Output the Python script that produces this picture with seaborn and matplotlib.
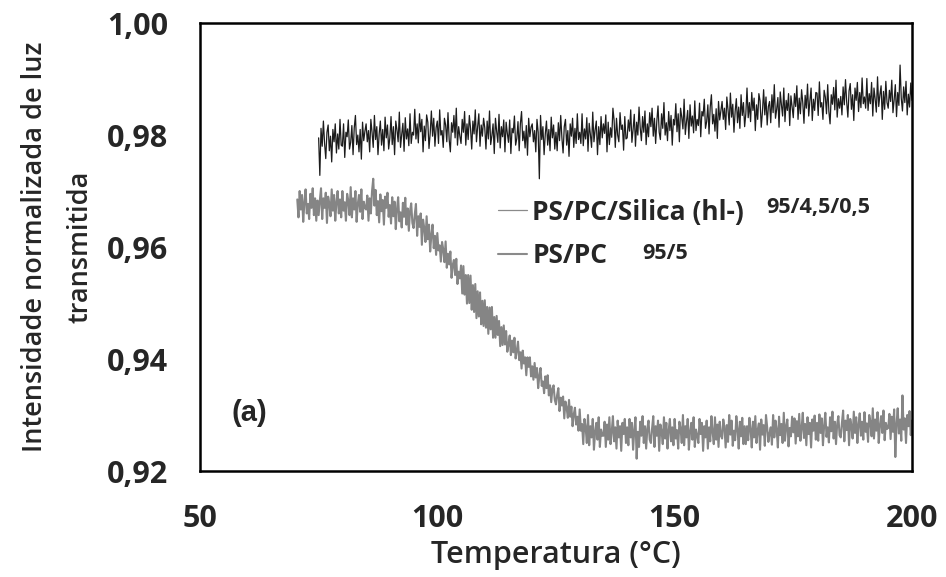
import numpy as np
import pandas as pd
import matplotlib
matplotlib.use('Agg')
import matplotlib.pyplot as plt
import seaborn as sns
from matplotlib.ticker import MultipleLocator, FuncFormatter

# leituras do gráfico, intensidade x 10^4, uma leitura a cada 0,25 °C
silica_t = (75.0, 200.0)
pspc_t = (70.5, 200.0)

silica_e4 = [
    9795, 9728, 9812, 9780, 9825, 9785, 9758, 9805, 9818, 9772, 9798, 9752, 9810, 9788, 9820, 9768, 9802, 9775, 9828, 9782,
    9780, 9820, 9760, 9805, 9797, 9827, 9775, 9787, 9817, 9765, 9813, 9835, 9783, 9800, 9770, 9810, 9757, 9823, 9790, 9807,
    9820, 9788, 9808, 9770, 9828, 9805, 9778, 9835, 9792, 9815, 9765, 9802, 9825, 9782, 9810, 9772, 9832, 9795, 9818, 9775,
    9795, 9833, 9783, 9815, 9765, 9825, 9809, 9788, 9841, 9778, 9801, 9821, 9771, 9831, 9793, 9811, 9781, 9838, 9785, 9805,
    9800, 9846, 9793, 9820, 9786, 9838, 9806, 9828, 9770, 9816, 9790, 9836, 9823, 9776, 9803, 9843, 9798, 9830, 9780, 9813,
    9825, 9785, 9845, 9800, 9808, 9778, 9830, 9818, 9788, 9840, 9792, 9770, 9822, 9805, 9835, 9795, 9848, 9782, 9815, 9798,
    9785, 9828, 9805, 9842, 9782, 9820, 9792, 9835, 9812, 9775, 9825, 9802, 9845, 9788, 9815, 9838, 9780, 9818, 9798, 9830,
    9813, 9775, 9825, 9793, 9843, 9783, 9799, 9820, 9767, 9830, 9807, 9787, 9837, 9777, 9815, 9797, 9827, 9770, 9823, 9803,
    9787, 9827, 9767, 9812, 9804, 9834, 9782, 9794, 9824, 9772, 9820, 9842, 9790, 9807, 9777, 9817, 9764, 9830, 9797, 9814,
    9820, 9788, 9808, 9770, 9828, 9805, 9722, 9835, 9792, 9815, 9765, 9802, 9825, 9782, 9810, 9772, 9832, 9795, 9818, 9775,
    9805, 9772, 9822, 9790, 9835, 9795, 9768, 9815, 9828, 9782, 9808, 9762, 9820, 9798, 9830, 9778, 9812, 9785, 9838, 9792,
    9805, 9785, 9838, 9781, 9811, 9793, 9831, 9771, 9821, 9801, 9778, 9841, 9788, 9809, 9825, 9765, 9815, 9783, 9833, 9795,
    9820, 9803, 9836, 9770, 9823, 9783, 9813, 9796, 9848, 9826, 9778, 9830, 9800, 9788, 9840, 9810, 9818, 9773, 9833, 9793,
    9795, 9827, 9807, 9845, 9787, 9810, 9837, 9780, 9823, 9800, 9850, 9813, 9790, 9833, 9805, 9843, 9783, 9820, 9797, 9840,
    9815, 9848, 9798, 9830, 9785, 9825, 9852, 9805, 9792, 9838, 9812, 9858, 9800, 9822, 9790, 9842, 9808, 9835, 9782, 9828,
    9818, 9856, 9806, 9838, 9788, 9848, 9832, 9811, 9864, 9801, 9824, 9844, 9794, 9854, 9816, 9834, 9804, 9861, 9808, 9828,
    9817, 9857, 9797, 9842, 9834, 9864, 9812, 9824, 9854, 9802, 9850, 9872, 9820, 9837, 9807, 9847, 9794, 9860, 9827, 9844,
    9860, 9828, 9848, 9810, 9868, 9845, 9818, 9875, 9832, 9855, 9805, 9842, 9865, 9822, 9850, 9812, 9872, 9835, 9858, 9815,
    9838, 9884, 9831, 9858, 9824, 9876, 9844, 9866, 9808, 9854, 9828, 9874, 9861, 9814, 9841, 9881, 9836, 9868, 9818, 9851,
    9860, 9822, 9872, 9840, 9890, 9830, 9846, 9867, 9814, 9877, 9854, 9834, 9884, 9824, 9862, 9844, 9874, 9817, 9870, 9850,
    9831, 9874, 9851, 9888, 9828, 9866, 9838, 9881, 9858, 9821, 9871, 9848, 9891, 9834, 9861, 9884, 9826, 9864, 9844, 9876,
    9875, 9835, 9895, 9850, 9858, 9828, 9880, 9868, 9838, 9890, 9842, 9820, 9872, 9855, 9885, 9845, 9898, 9832, 9865, 9848,
    9869, 9836, 9886, 9854, 9899, 9859, 9832, 9879, 9892, 9846, 9872, 9826, 9884, 9862, 9894, 9842, 9876, 9849, 9902, 9856,
    9868, 9848, 9901, 9844, 9874, 9856, 9894, 9834, 9884, 9864, 9841, 9904, 9851, 9872, 9888, 9828, 9878, 9846, 9896, 9858,
    9848, 9880, 9860, 9898, 9840, 9863, 9890, 9833, 9876, 9853, 9925, 9866, 9843, 9886, 9858, 9896, 9836, 9873, 9850, 9893,
    9862,
]

pspc_e4 = [
    9685, 9653, 9700, 9667, 9693, 9645, 9680, 9703, 9660, 9677, 9650, 9695, 9670, 9705, 9657, 9687, 9647, 9683,
    9657, 9683, 9705, 9650, 9687, 9670, 9697, 9643, 9690, 9678, 9655, 9703, 9665, 9693, 9647, 9680, 9700, 9660, 9685, 9653,
    9700, 9665, 9680, 9647, 9695, 9683, 9657, 9707, 9653, 9687, 9667, 9700, 9645, 9677, 9693, 9663, 9703, 9650, 9681, 9670,
    9667, 9692, 9647, 9687, 9660, 9700, 9722, 9674, 9702, 9657, 9682, 9644, 9694, 9664, 9684, 9640, 9690, 9670, 9697, 9654,
    9675, 9642, 9689, 9655, 9681, 9632, 9667, 9689, 9646, 9662, 9635, 9679, 9654, 9688, 9640, 9669, 9629, 9664, 9678, 9643,
    9634, 9658, 9677, 9620, 9655, 9636, 9660, 9604, 9649, 9634, 9609, 9655, 9614, 9640, 9592, 9622, 9640, 9598, 9620, 9586,
    9625, 9594, 9603, 9574, 9609, 9596, 9573, 9610, 9563, 9588, 9569, 9592, 9545, 9568, 9577, 9550, 9579, 9534, 9556, 9544,
    9567, 9517, 9566, 9515, 9550, 9499, 9550, 9500, 9549, 9488, 9532, 9484, 9534, 9473, 9521, 9476, 9519, 9462, 9504, 9459,
    9505, 9456, 9493, 9445, 9492, 9453, 9493, 9438, 9475, 9438, 9477, 9443, 9468, 9423, 9457, 9425, 9460, 9426, 9450, 9413,
    9426, 9442, 9407, 9433, 9412, 9438, 9401, 9415, 9431, 9398, 9412, 9383, 9415, 9392, 9403, 9371, 9403, 9386, 9403, 9369,
    9387, 9363, 9393, 9367, 9384, 9348, 9370, 9384, 9352, 9360, 9339, 9369, 9348, 9371, 9335, 9353, 9323, 9347, 9353, 9327,
    9319, 9336, 9348, 9307, 9331, 9317, 9333, 9294, 9324, 9313, 9295, 9327, 9297, 9315, 9280, 9301, 9313, 9283, 9297, 9272,
    9310, 9272, 9284, 9248, 9293, 9278, 9250, 9300, 9246, 9280, 9260, 9293, 9238, 9270, 9286, 9256, 9296, 9243, 9274, 9263,
    9263, 9288, 9243, 9283, 9256, 9296, 9248, 9270, 9298, 9253, 9278, 9240, 9290, 9260, 9280, 9236, 9286, 9266, 9293, 9250,
    9278, 9246, 9293, 9260, 9286, 9238, 9273, 9296, 9222, 9270, 9243, 9288, 9263, 9298, 9250, 9280, 9240, 9276, 9290, 9256,
    9250, 9276, 9298, 9243, 9280, 9263, 9290, 9236, 9283, 9271, 9248, 9296, 9258, 9286, 9240, 9273, 9293, 9253, 9278, 9246,
    9293, 9258, 9273, 9240, 9288, 9276, 9250, 9300, 9246, 9280, 9260, 9293, 9238, 9270, 9286, 9256, 9296, 9243, 9274, 9263,
    9250, 9293, 9266, 9286, 9236, 9280, 9260, 9290, 9240, 9278, 9253, 9298, 9270, 9248, 9296, 9256, 9283, 9243, 9288, 9263,
    9258, 9292, 9278, 9242, 9282, 9252, 9300, 9265, 9290, 9245, 9272, 9255, 9298, 9275, 9240, 9288, 9262, 9295, 9248, 9280,
    9248, 9280, 9255, 9295, 9275, 9242, 9288, 9260, 9298, 9250, 9273, 9285, 9238, 9292, 9265, 9282, 9245, 9300, 9278, 9252,
    9267, 9278, 9247, 9300, 9260, 9290, 9274, 9242, 9297, 9264, 9284, 9250, 9304, 9254, 9280, 9292, 9244, 9277, 9262, 9297,
    9269, 9294, 9249, 9289, 9262, 9302, 9254, 9276, 9304, 9259, 9284, 9246, 9296, 9266, 9286, 9242, 9292, 9272, 9299, 9256,
    9286, 9254, 9301, 9268, 9294, 9246, 9281, 9304, 9261, 9278, 9251, 9296, 9271, 9306, 9258, 9288, 9248, 9284, 9298, 9264,
    9260, 9286, 9308, 9253, 9290, 9273, 9300, 9246, 9293, 9281, 9258, 9306, 9268, 9296, 9250, 9283, 9303, 9263, 9288, 9256,
    9305, 9270, 9285, 9252, 9300, 9288, 9262, 9312, 9258, 9292, 9272, 9305, 9250, 9282, 9298, 9268, 9308, 9255, 9286, 9275,
    9277, 9302, 9257, 9297, 9270, 9310, 9225, 9284, 9312, 9267, 9292, 9254, 9335, 9274, 9294, 9250, 9300, 9280, 9307, 9264,
    9290,
]

rotulos = ['PS/PC/Silica (hl-)', 'PS/PC']
razoes = ['95/4,5/0,5', '95/5']

silica = pd.DataFrame({
    'T': np.linspace(*silica_t, len(silica_e4)),
    'I': np.array(silica_e4) / 1e4,
})
pspc = pd.DataFrame({
    'T': np.linspace(*pspc_t, len(pspc_e4)),
    'I': np.array(pspc_e4) / 1e4,
})

sns.set_style('white')
plt.rcParams['font.family'] = ['Open Sans', 'DejaVu Sans']

fig = plt.figure(figsize=(9.46, 5.77), dpi=100)
ax = fig.add_axes([0.2114, 0.1837, 0.7526, 0.7763])

sns.lineplot(data=silica, x='T', y='I', ax=ax, color='#1c1c1c', lw=0.9,
             label=rotulos[0])
sns.lineplot(data=pspc, x='T', y='I', ax=ax, color='#858585', lw=1.5,
             label=rotulos[1])

ax.set_xlim(50, 200)
ax.set_ylim(0.92, 1.00)
ax.xaxis.set_major_locator(MultipleLocator(50))
ax.xaxis.set_minor_locator(MultipleLocator(25))
ax.yaxis.set_major_locator(MultipleLocator(0.02))
ax.yaxis.set_minor_locator(MultipleLocator(0.01))
ax.yaxis.set_major_formatter(FuncFormatter(lambda v, p: f'{v:.2f}'.replace('.', ',')))
ax.tick_params(which='both', direction='in', length=6, width=0.8, color='#b0b0b0')
ax.tick_params(axis='y', which='major', pad=23, labelsize=22)
ax.tick_params(axis='x', which='major', pad=24, labelsize=22)
for lab in ax.get_xticklabels() + ax.get_yticklabels():
    lab.set_fontweight('bold')

for s in ax.spines.values():
    s.set_color('black')
    s.set_linewidth(1.8)

ax.set_xlabel('Temperatura (°C)', fontsize=22, fontweight='semibold', labelpad=4)
ax.set_ylabel('Intensidade normalizada de luz\ntransmitida', fontsize=19.5,
              fontweight='semibold', labelpad=9, linespacing=1.8)

leg = ax.legend(loc='upper left', bbox_to_anchor=(0.385, 0.661), frameon=False,
                handlelength=1.1, handletextpad=0.2, labelspacing=0.62,
                prop={'size': 19, 'weight': 'bold'})
for h in leg.get_lines():
    h.set_color('#8a8a8a')
ax.text(0.795, 0.588, razoes[0], transform=ax.transAxes, fontsize=15.5,
        fontweight='bold', va='center')
ax.text(0.621, 0.486, razoes[1], transform=ax.transAxes, fontsize=15.5,
        fontweight='bold', va='center')

ax.text(0.069, 0.13, '(a)', transform=ax.transAxes, fontsize=21,
        fontweight='bold', family=['Liberation Sans', 'DejaVu Sans'],
        ha='center', va='center')

fig.savefig('out.png', dpi=100)
